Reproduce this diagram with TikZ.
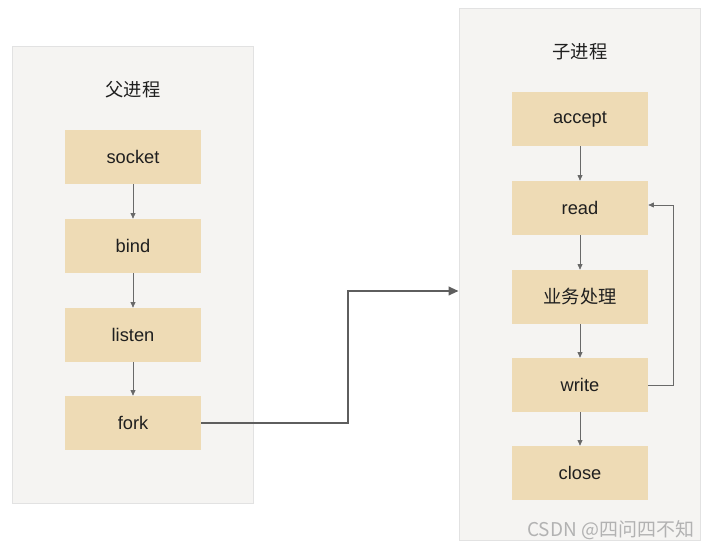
\documentclass[tikz,border=0pt]{standalone}
\usepackage{fontspec}
\setmainfont{Liberation Sans}
\newfontfamily\cjk{Noto Sans CJK SC}
\usetikzlibrary{arrows.meta}
\definecolor{boxfill}{RGB}{238,219,181}
\definecolor{panelfill}{RGB}{245,244,242}
\definecolor{panelline}{RGB}{226,226,226}
\definecolor{lineclr}{RGB}{105,105,105}
\tikzset{
  panel/.style={fill=panelfill, draw=panelline, line width=0.6pt},
  box/.style={fill=boxfill, minimum width=3.4cm, minimum height=1.35cm, font=\fontsize{13}{15}\selectfont, text=black!88},
  title/.style={font=\cjk\fontsize{13}{15}\selectfont, text=black!88},
  flow/.style={draw=lineclr, line width=0.5pt, -{Triangle[length=4pt, width=3.5pt]}},
  jump/.style={draw=lineclr!90!black, line width=1.4pt, -{Triangle[length=7pt, width=6pt]}}
}

\begin{document}
\begin{tikzpicture}[x=0.025cm, y=-0.025cm]
        \useasboundingbox[fill=white] (0,0) rectangle (712,550);
        % panels
        \node[panel, minimum width=6.025cm, minimum height=11.425cm] (parent) at (132.5,274.5) {};
        \node[panel, minimum width=6.025cm, minimum height=13.3cm] (child) at (579.5,274) {};
        \node[title] (ptitle) at (133,90) {父进程};
        \node[title] (ctitle) at (580,52) {子进程};

        % parent steps
        \node[box] (socket) at (133,157) {socket};
        \node[box] (bind) at (133,246) {bind};
        \node[box] (listen) at (133,335) {listen};
        \node[box] (fork) at (133,423) {fork};
        \draw[flow] (socket) -- (bind);
        \draw[flow] (bind) -- (listen);
        \draw[flow] (listen) -- (fork);

        % child steps
        \node[box] (accept) at (580,119) {accept};
        \node[box] (read) at (580,208) {read};
        \node[box, font=\cjk\fontsize{13}{15}\selectfont] (work) at (580,297) {业务处理};
        \node[box] (write) at (580,385) {write};
        \node[box] (close) at (580,473) {close};
        \draw[flow] (accept) -- (read);
        \draw[flow] (read) -- (work);
        \draw[flow] (work) -- (write);
        \draw[flow] (write) -- (close);
        \draw[flow] (write.east) -- (673,385) |- ([yshift=0.075cm]read.east);

        % fork -> child
        \coordinate (in) at (child.west |- 0,291);
        \draw[jump] (fork.east) -- (348,423) |- (in);

        \node[text=black!30, font=\cjk\fontsize{13.5}{15}\selectfont, anchor=east] (mark) at (699,530) {CSDN @四问四不知};
\end{tikzpicture}
\end{document}
